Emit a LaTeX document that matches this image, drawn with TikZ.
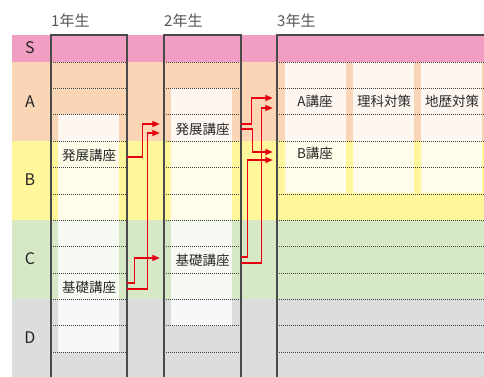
\documentclass[tikz,border=0pt]{standalone}
\usepackage{fontspec}
\setmainfont{Noto Sans CJK JP}
\usetikzlibrary{arrows.meta}
\definecolor{cS}{HTML}{F19EC2}
\definecolor{cA}{HTML}{FAD6B6}
\definecolor{cB}{HTML}{FFF799}
\definecolor{cC}{HTML}{D7E8C6}
\definecolor{cD}{HTML}{DCDDDD}
\definecolor{cRed}{HTML}{E60012}
\definecolor{cBorder}{HTML}{4A4A4A}
\definecolor{cDot}{HTML}{404040}
\definecolor{cText}{HTML}{2A2A2A}
\definecolor{cHead}{HTML}{555555}
\tikzset{
  overlay box/.style={fill=white, fill opacity=0.8},
  dotline/.style={draw=cDot, line width=0.8pt, dash pattern=on 1pt off 1pt},
  colborder/.style={draw=cBorder, line width=1.3pt},
  course/.style={font=\fontsize{13.5}{14}\selectfont, text=cText, inner sep=0pt, minimum height=14pt},
  course1/.style={course, minimum width=76pt},
  course2/.style={course, minimum width=77pt},
  course3/.style={course, minimum width=76pt},
  bandlabel/.style={font=\fontsize{16}{17}\selectfont, text=black!85},
  header/.style={font=\fontsize{15}{16}\selectfont, text=cHead, anchor=west, inner sep=0pt},
  arr/.style={draw=cRed, line width=1.4pt, -{Triangle[length=7.5pt,width=6pt]}, shorten >=4pt},
}
\begin{document}
\begin{tikzpicture}[x=1pt,y=-1pt]
\useasboundingbox (0,0) rectangle (484,377);
% bands
\fill[cS] (12,35) rectangle (484,62);
\fill[cA] (12,62) rectangle (484,141);
\fill[cB] (12,141) rectangle (484,220);
\fill[cC] (12,220) rectangle (484,299);
\fill[cD] (12,299) rectangle (484,377);
% overlays
\fill[overlay box] (58,114) rectangle (119,352);
\fill[overlay box] (171,88) rectangle (232,326);
\fill[overlay box] (285,62) rectangle (346,193);
\fill[overlay box] (353,62) rectangle (414,193);
\fill[overlay box] (421,62) rectangle (482,193);
% dotted lines
\foreach \y in {62,88,114,141,167,194,220,246,273,299,325,352}{
  \draw[dotline] (51,\y) -- (127,\y);
  \draw[dotline] (164,\y) -- (241,\y);
  \draw[dotline] (277,\y) -- (484,\y);
}
% column borders
\draw[colborder] (51,378) -- (51,35) -- (127,35) -- (127,378);
\draw[colborder] (164,378) -- (164,35) -- (241,35) -- (241,378);
\draw[colborder] (277,378) -- (277,35) -- (485,35);
% headers
\node[header] (y1) at (51,21) {1年生};
\node[header] (y2) at (164,21) {2年生};
\node[header] (y3) at (277,21) {3年生};
% band labels
\node[bandlabel] (lS) at (30,48) {S};
\node[bandlabel] (lA) at (30,102) {A};
\node[bandlabel] (lB) at (30,180) {B};
\node[bandlabel] (lC) at (30,259) {C};
\node[bandlabel] (lD) at (30,338) {D};
% courses
\node[course1] (h1) at (89,155) {発展講座};
\node[course1] (k1) at (89,287) {基礎講座};
\node[course2] (h2) at (202.5,129) {発展講座};
\node[course2] (k2) at (202.5,260) {基礎講座};
\node[course3] (a3) at (315,101) {A講座};
\node[course3] (b3) at (315,153) {B講座};
\node[course] (r3) at (384,101) {理科対策};
\node[course] (c3) at (452,101) {地歴対策};
% arrows year1 -> year2
\draw[arr] ([yshift=-2pt]h1.east) -- ++(15,0) |- ([yshift=5pt]h2.west);
\draw[arr] ([yshift=-2pt]k1.east) -- ++(20,0) |- ([yshift=-4pt]h2.west);
\draw[arr] ([yshift=4pt]k1.east) -- ++(7,0) |- ([yshift=2pt]k2.west);
% arrows year2 -> year3
\draw[arr] ([yshift=5pt]h2.east) -- ++(10,0) |- ([yshift=3pt]a3.west);
\draw[arr] ([yshift=0pt]h2.east) -- ++(11,0) |- ([yshift=1pt]b3.west);
\draw[arr] ([yshift=-3pt]k2.east) -- ++(20,0) |- ([yshift=-7pt]a3.west);
\draw[arr] ([yshift=3pt]k2.east) -- ++(6,0) |- ([yshift=-7pt]b3.west);
\end{tikzpicture}
\end{document}
